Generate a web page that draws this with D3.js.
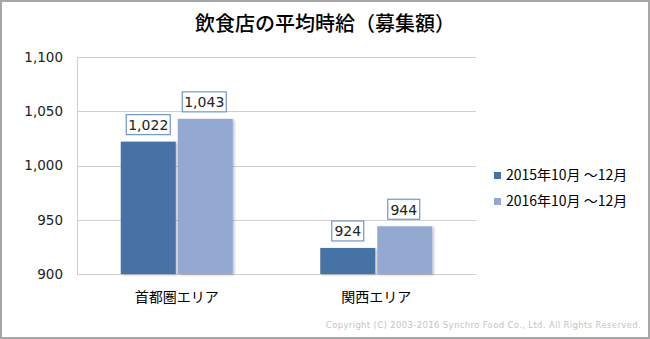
<!DOCTYPE html>
<html><head><meta charset="utf-8">
<script src="https://cdn.jsdelivr.net/npm/d3@7"></script>
<style>
html,body{margin:0;padding:0;background:#fff;}
svg{display:block;}
</style></head>
<body>
<svg id="chart" width="650" height="339"></svg>
<script>
// Average hourly wage offered at restaurants, by region and period
const categories = ["首都圏エリア", "関西エリア"];
const seriesNames = ["2015年10月 ～12月", "2016年10月 ～12月"];
const values2015 = [1022, 924];
const values2016 = [1043, 944];
const yTicks = [900, 950, 1000, 1050, 1100];
const colors = ["#4672a6", "#93a9d2"];

const series = [values2015, values2016];
const svg = d3.select("#chart");
const W = 650, H = 339;
const jp = "'Noto Sans CJK JP', sans-serif";
const num = "'DejaVu Sans', Verdana, sans-serif";

// frame
svg.append("rect").attr("x", 1).attr("y", 1).attr("width", W - 2).attr("height", H - 2)
  .attr("fill", "#fff").attr("stroke", "#a6a6a6").attr("stroke-width", 2);

// title
svg.append("text").attr("x", 325).attr("y", 31).attr("text-anchor", "middle")
  .attr("font-family", jp).attr("font-size", 20).attr("font-weight", 500).attr("fill", "#000")
  .text("飲食店の平均時給（募集額）");

const plot = {left: 77, right: 476, top: 57, bottom: 274};
const x = d3.scaleBand().domain(categories).range([plot.left, plot.right]);
const y = d3.scaleLinear().domain([900, 1100]).range([plot.bottom, plot.top]);

// gridlines
svg.append("g").selectAll("line").data(yTicks).join("line")
  .attr("x1", plot.left).attr("x2", plot.right)
  .attr("y1", d => Math.round(y(d)) + 0.5).attr("y2", d => Math.round(y(d)) + 0.5)
  .attr("stroke", "#d0d0d0").attr("stroke-width", 1);
svg.append("line").attr("x1", plot.left + 0.5).attr("x2", plot.left + 0.5)
  .attr("y1", plot.top).attr("y2", plot.bottom).attr("stroke", "#d0d0d0");

// y axis labels
const yAxis = d3.axisLeft(y).tickValues(yTicks).tickSize(0).tickPadding(14)
  .tickFormat(d3.format(","));
const ga = svg.append("g").attr("transform", `translate(${plot.left},0)`).call(yAxis);
ga.select(".domain").remove();
ga.selectAll("text").attr("font-family", num).attr("font-size", 13.5).attr("fill", "#222");

// bars
const barW = 55, gap = 2;
const defs = svg.append("defs");
const f = defs.append("filter").attr("id", "sh").attr("x", "-10%").attr("y", "-10%").attr("width", "130%").attr("height", "130%");
f.append("feDropShadow").attr("dx", 1.5).attr("dy", 1).attr("stdDeviation", 1)
  .attr("flood-color", "#000").attr("flood-opacity", 0.25);

categories.forEach((c, i) => {
  const cx = x(c) + x.bandwidth() / 2;
  series.forEach((vals, s) => {
    const bx = cx - barW - gap / 2 + s * (barW + gap);
    const v = vals[i];
    svg.append("rect").attr("x", bx).attr("y", y(v))
      .attr("width", barW).attr("height", y(900) - y(v))
      .attr("fill", colors[s]).attr("filter", "url(#sh)");
    // value label box
    const label = d3.format(",")(v);
    const lw = label.length > 3 ? 44 : 32;
    const lcx = bx + barW / 2 + (s === 0 ? 0 : -1);
    svg.append("rect").attr("x", lcx - lw / 2).attr("y", y(v) - 27)
      .attr("width", lw).attr("height", 20)
      .attr("fill", "#fff").attr("stroke", "#6f97cc").attr("stroke-width", 1.2);
    svg.append("text").attr("x", lcx).attr("y", y(v) - 11.5).attr("text-anchor", "middle")
      .attr("font-family", num).attr("font-size", 14).attr("fill", "#222").text(label);
  });
  // category label
  svg.append("text").attr("x", cx).attr("y", 302).attr("text-anchor", "middle")
    .attr("font-family", jp).attr("font-size", 14).attr("fill", "#000").text(c);
});

// legend
seriesNames.forEach((n, s) => {
  const ly = 175 + s * 26;
  svg.append("rect").attr("x", 494).attr("y", ly - 3).attr("width", 7).attr("height", 7).attr("fill", colors[s]);
  svg.append("text").attr("x", 506).attr("y", ly + 5).attr("font-family", jp)
    .attr("font-size", 14).attr("fill", "#000").text(n);
});

// copyright
svg.append("text").attr("x", 641).attr("y", 328).attr("text-anchor", "end")
  .attr("font-family", "'DejaVu Sans', sans-serif").attr("font-size", 8.5).attr("fill", "#c4c4c4")
  .attr("letter-spacing", 0.35)
  .text("Copyright (C) 2003-2016  Synchro Food Co., Ltd. All Rights Reserved.");
</script>
</body></html>
